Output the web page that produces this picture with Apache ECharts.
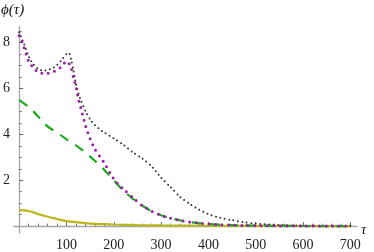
<!DOCTYPE html>
<html>
<head>
<meta charset="utf-8">
<script src="https://cdn.jsdelivr.net/npm/echarts@6/dist/echarts.min.js"></script>
<style>
html,body{margin:0;padding:0;background:#fff;}
#c{width:374px;height:252px;}
</style>
</head>
<body>
<div id="c"></div>
<script>
// ---- data ----
var tauBlack  = [0,10,20,30,40,50,60,70,80,90,100,105,110,115,120,125,130,140,150,160,170,180,200,220,240,260,280,300,320,340,360,380,400,425,450,475,500,550,600,650,700];
var phiBlack  = [8.45,7.95,7.4,7.05,6.85,6.78,6.8,6.88,7.02,7.25,7.5,7.55,7.25,6.75,6.2,5.8,5.5,5.02,4.65,4.4,4.22,4.08,3.82,3.55,3.22,2.95,2.6,2.12,1.7,1.28,0.98,0.72,0.52,0.36,0.26,0.17,0.11,0.05,0.02,0.01,0.0];

var tauPurple = [0,10,20,30,40,50,60,70,80,90,100,105,110,115,120,125,130,140,150,160,170,180,200,220,240,260,280,300,320,340,360,380,400,425,450,475,500,550,600,650,700];
var phiPurple = [8.3,7.8,7.2,6.9,6.72,6.66,6.66,6.72,6.8,6.97,7.18,7.1,6.9,6.45,6.1,5.55,5.18,4.4,3.8,3.35,3.05,2.75,2.05,1.62,1.25,0.9,0.65,0.47,0.34,0.25,0.18,0.13,0.09,0.06,0.045,0.03,0.02,0.01,0.005,0.0,0.0];

var tauGreen  = [0,10,20,30,40,50,60,70,80,90,100,110,120,130,140,150,160,170,180,190,200,220,240,260,280,300,320,340,360,380,400,425,450,475,500,550,600,650,700];
var phiGreen  = [5.5,5.35,5.2,5.0,4.78,4.55,4.35,4.2,4.06,3.93,3.78,3.65,3.52,3.37,3.2,3.03,2.85,2.65,2.45,2.22,2.0,1.55,1.2,0.9,0.65,0.47,0.34,0.25,0.18,0.13,0.09,0.06,0.045,0.03,0.02,0.01,0.005,0.0,0.0];

var tauYellow = [0,10,20,30,40,50,60,70,80,90,100,120,140,160,180,200,250,300,400,500,600,700];
var phiYellow = [0.7,0.69,0.66,0.6,0.53,0.47,0.41,0.36,0.31,0.26,0.22,0.17,0.13,0.1,0.085,0.07,0.045,0.03,0.015,0.01,0.005,0.0];

var xLabels = [100,200,300,400,500,600,700];
var xMinor  = [20,40,60,80,120,140,160,180,220,240,260,280,320,340,360,380,420,440,460,480,520,540,560,580,620,640,660,680];
var yLabels = [2,4,6,8];
var yMinor  = [0.5,1,1.5,2.5,3,3.5,4.5,5,5.5,6.5,7,7.5,8.5];

function pairs(xs, ys){ return xs.map(function(x,i){ return [x, ys[i]]; }); }

var font = 'Liberation Serif';
var axisColor = '#a6a6a6';

var chart = echarts.init(document.getElementById('c'), null, {renderer:'canvas'});
chart.setOption({
  animation:false,
  backgroundColor:'#fff',
  grid:{left:6.2, right:17.1, top:26.5, bottom:14, containLabel:false},
  xAxis:[{
    type:'value', min:-12, max:714, position:'bottom',
    axisLine:{onZero:true, lineStyle:{color:axisColor, width:1.3}},
    axisTick:{show:true, inside:true, length:4, customValues:xLabels, lineStyle:{color:'#666', width:1}},
    axisLabel:{show:true, margin:5, customValues:xLabels, color:'#222', fontFamily:font, fontSize:14},
    splitLine:{show:false}
  },{
    type:'value', min:-12, max:714, position:'bottom',
    axisLine:{show:false, onZero:true},
    axisTick:{show:true, inside:true, length:2.5, customValues:xMinor, lineStyle:{color:'#777', width:1}},
    axisLabel:{show:false},
    splitLine:{show:false}
  }],
  yAxis:[{
    type:'value', min:-0.3, max:8.7, position:'left',
    axisLine:{onZero:true, lineStyle:{color:axisColor, width:1.3}},
    axisTick:{show:true, inside:true, length:4, customValues:yLabels, lineStyle:{color:'#666', width:1}},
    axisLabel:{show:true, margin:3.5, customValues:yLabels, color:'#222', fontFamily:font, fontSize:14},
    splitLine:{show:false}
  },{
    type:'value', min:-0.3, max:8.7, position:'left',
    axisLine:{show:false, onZero:true},
    axisTick:{show:true, inside:true, length:2.5, customValues:yMinor, lineStyle:{color:'#777', width:1}},
    axisLabel:{show:false},
    splitLine:{show:false}
  }],
  graphic:[
    {type:'text', left:1, top:3, style:{text:'ϕ(τ)', font:'italic 15px "Liberation Serif"', fill:'#111'}},
    {type:'text', left:361, top:223, style:{text:'τ', font:'italic 15px "Liberation Serif"', fill:'#111'}}
  ],
  series:[
    {type:'line', data:pairs(tauYellow, phiYellow), showSymbol:false, smooth:0.3, z:2,
     lineStyle:{color:'#b8b81a', width:2.2}},
    {type:'line', data:pairs(tauBlack, phiBlack), showSymbol:false, smooth:0.25, z:3,
     lineStyle:{color:'#333', width:2, type:[0,4.5], cap:'round'}},
    {type:'line', data:pairs(tauGreen, phiGreen), showSymbol:false, smooth:0.25, z:4,
     lineStyle:{color:'#1faa1f', width:2.2, type:[10,8], cap:'butt'}},
    {type:'line', data:pairs(tauPurple, phiPurple), showSymbol:false, smooth:0.25, z:5,
     lineStyle:{color:'#9b1fa8', width:3, type:[0,6.5], cap:'round'}}
  ]
});
</script>
</body>
</html>
